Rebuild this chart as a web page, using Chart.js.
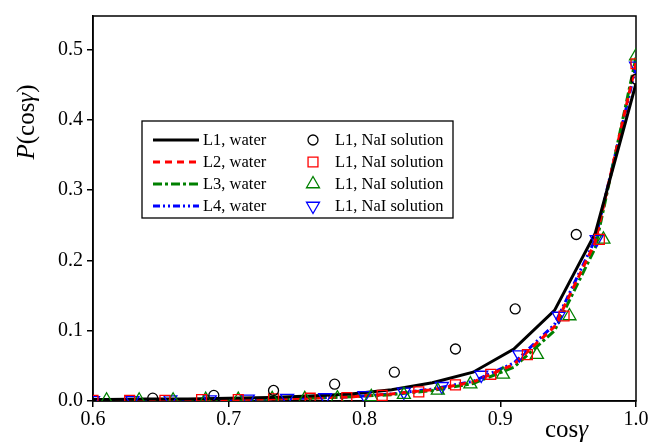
<!DOCTYPE html>
<html>
<head>
<meta charset="utf-8">
<script src="https://cdn.jsdelivr.net/npm/chart.js"></script>
<style>
  html, body { margin: 0; padding: 0; background: #fff; }
</style>
</head>
<body>
<canvas id="chart" width="651" height="443"></canvas>
<script>
// --- data ---
const lineX   = [1.0, 0.97, 0.94, 0.91, 0.88, 0.85, 0.82, 0.79, 0.76, 0.73, 0.70, 0.67, 0.64, 0.61, 0.58];
const l1Water = [0.452, 0.239, 0.129, 0.074, 0.041, 0.026, 0.016, 0.010, 0.007, 0.005, 0.004, 0.003, 0.003, 0.002, 0.002];
const l2Water = [0.481, 0.226, 0.106, 0.052, 0.027, 0.016, 0.010, 0.006, 0.004, 0.003, 0.002, 0.002, 0.001, 0.001, 0.001];
const l3Water = [0.489, 0.218, 0.100, 0.048, 0.025, 0.015, 0.009, 0.006, 0.004, 0.003, 0.002, 0.002, 0.001, 0.001, 0.001];
const l4Water = [0.476, 0.230, 0.109, 0.054, 0.028, 0.017, 0.010, 0.006, 0.004, 0.003, 0.002, 0.002, 0.001, 0.001, 0.001];

const circX   = [1.0, 0.956, 0.911, 0.867, 0.822, 0.778, 0.733, 0.689, 0.644];
const circY   = [0.458, 0.237, 0.131, 0.074, 0.041, 0.024, 0.015, 0.008, 0.004];

const sqX     = [1.0, 0.973, 0.947, 0.92, 0.893, 0.867, 0.84, 0.813, 0.787, 0.76, 0.733, 0.707, 0.68, 0.653, 0.627, 0.6];
const sqY     = [0.480, 0.230, 0.121, 0.066, 0.038, 0.023, 0.013, 0.008, 0.005, 0.004, 0.003, 0.002, 0.002, 0.001, 0.001, 0.001];

const triX    = [1.0, 0.976, 0.951, 0.927, 0.902, 0.878, 0.854, 0.829, 0.805, 0.78, 0.756, 0.732, 0.707, 0.683, 0.659, 0.634, 0.61];
const triY    = [0.491, 0.230, 0.121, 0.066, 0.038, 0.024, 0.015, 0.009, 0.006, 0.004, 0.003, 0.003, 0.002, 0.002, 0.001, 0.001, 0.001];

const invX    = [1.0, 0.971, 0.943, 0.914, 0.886, 0.857, 0.829, 0.8, 0.771, 0.743, 0.714, 0.686, 0.657, 0.629, 0.6];
const invY    = [0.477, 0.230, 0.121, 0.066, 0.037, 0.021, 0.013, 0.008, 0.005, 0.004, 0.003, 0.002, 0.002, 0.001, 0.001];

const xTicks  = [0.6, 0.7, 0.8, 0.9, 1.0];
const yTicks  = [0.0, 0.1, 0.2, 0.3, 0.4, 0.5];

const lineLabels   = ['L1, water', 'L2, water', 'L3, water', 'L4, water'];
const markerLabels = ['L1, NaI solution', 'L1, NaI solution', 'L1, NaI solution', 'L1, NaI solution'];

const pts = (xs, ys) => xs.map((x, i) => ({ x: x, y: ys[i] }));
const SERIF = '"Liberation Serif", "Times New Roman", serif';

function lineSet(label, ys, color, dash) {
  return {
    label: label, data: pts(lineX, ys), showLine: true, order: 2,
    borderColor: color, backgroundColor: color, borderWidth: 3,
    borderDash: dash, pointRadius: 0, tension: 0
  };
}
function markerSet(label, xs, ys, color, style, r, rot) {
  return {
    label: label, data: pts(xs, ys), showLine: false, order: 1,
    borderColor: color, backgroundColor: 'rgba(0,0,0,0)', borderWidth: 1.3,
    pointStyle: style, pointRadius: r, pointRotation: rot || 0
  };
}

const datasets = [
  lineSet(lineLabels[0], l1Water, '#000000', []),
  lineSet(lineLabels[1], l2Water, '#ff0000', [7, 5]),
  lineSet(lineLabels[2], l3Water, '#008000', [9, 3, 3, 3]),
  lineSet(lineLabels[3], l4Water, '#0000ff', [7, 3, 2, 3, 2, 3]),
  markerSet(markerLabels[0], circX, circY, '#000000', 'circle', 5),
  markerSet(markerLabels[1], sqX, sqY, '#ff0000', 'rect', 7),
  markerSet(markerLabels[2], triX, triY, '#008000', 'triangle', 7.5),
  markerSet(markerLabels[3], invX, invY, '#0000ff', 'triangle', 7.5, 180)
];

// frame round the plot area
const framePlugin = {
  id: 'frame',
  beforeDatasetsDraw(chart) {
    const a = chart.chartArea, ctx = chart.ctx;
    ctx.save();
    ctx.strokeStyle = '#000';
    ctx.lineWidth = 1.5;
    ctx.strokeRect(a.left, a.top, a.right - a.left, a.bottom - a.top);
    ctx.restore();
  }
};

// axis titles with italic parts
function drawMixed(ctx, parts, x, y, size) {
  let cx = x;
  parts.forEach(p => {
    ctx.font = (p[1] ? 'italic ' : '') + size + 'px ' + SERIF;
    ctx.fillText(p[0], cx, y);
    cx += ctx.measureText(p[0]).width;
  });
  return cx - x;
}
function mixedWidth(ctx, parts, size) {
  let w = 0;
  parts.forEach(p => {
    ctx.font = (p[1] ? 'italic ' : '') + size + 'px ' + SERIF;
    w += ctx.measureText(p[0]).width;
  });
  return w;
}

const titlePlugin = {
  id: 'titles',
  afterDraw(chart) {
    const ctx = chart.ctx;
    ctx.save();
    ctx.fillStyle = '#000';
    ctx.textBaseline = 'alphabetic';
    // x title
    drawMixed(ctx, [['cos', false], ['\u03b3', true]], 545, 437, 25);
    // y title, rotated
    const yParts = [['P', true], ['(cos', false], ['\u03b3', true], [')', false]];
    const w = mixedWidth(ctx, yParts, 25);
    ctx.translate(34, 122);
    ctx.rotate(-Math.PI / 2);
    drawMixed(ctx, yParts, -w / 2, 0, 25);
    ctx.restore();
  }
};

// boxed legend inside the plot
const legendPlugin = {
  id: 'boxLegend',
  afterDraw(chart) {
    const ctx = chart.ctx;
    const ds = chart.data.datasets;
    const box = { l: 142, t: 121, r: 453, b: 218 };
    const rows = [140, 162, 184, 206];
    ctx.save();
    ctx.strokeStyle = '#000';
    ctx.lineWidth = 1.3;
    ctx.strokeRect(box.l, box.t, box.r - box.l, box.b - box.t);
    ctx.font = '16.5px ' + SERIF;
    ctx.fillStyle = '#000';
    ctx.textBaseline = 'middle';
    for (let i = 0; i < 4; i++) {
      const d = ds[i];
      const y = rows[i];
      ctx.save();
      ctx.strokeStyle = d.borderColor;
      ctx.lineWidth = d.borderWidth;
      ctx.setLineDash(d.borderDash);
      ctx.beginPath();
      ctx.moveTo(153, y);
      ctx.lineTo(199, y);
      ctx.stroke();
      ctx.restore();
      ctx.fillStyle = '#000';
      ctx.fillText(d.label, 203, y + 1);

      const m = ds[i + 4];
      ctx.save();
      ctx.strokeStyle = m.borderColor;
      ctx.fillStyle = 'rgba(0,0,0,0)';
      ctx.lineWidth = m.borderWidth;
      Chart.helpers.drawPoint(ctx, {
        pointStyle: m.pointStyle, rotation: m.pointRotation,
        radius: m.pointRadius, borderWidth: m.borderWidth
      }, 313, y);
      ctx.restore();
      ctx.fillStyle = '#000';
      ctx.fillText(m.label, 335, y + 1);
    }
    ctx.restore();
  }
};

const tickFont = { family: SERIF, size: 20 };

new Chart(document.getElementById('chart').getContext('2d'), {
  type: 'scatter',
  data: { datasets: datasets },
  options: {
    responsive: false,
    animation: false,
    layout: { padding: { top: 15, right: 15, left: 0, bottom: 0 } },
    plugins: { legend: { display: false }, tooltip: { enabled: false } },
    scales: {
      x: {
        type: 'linear', min: 0.6, max: 1.0,
        afterFit: s => { s.height = 42; },
        afterBuildTicks: s => { s.ticks = xTicks.map(v => ({ value: v })); },
        grid: { display: true, drawOnChartArea: false, drawTicks: true, tickLength: 6, color: '#000', lineWidth: 1.5 },
        border: { display: true, color: '#000', width: 1.5 },
        ticks: { font: tickFont, color: '#000', padding: 1, maxRotation: 0, callback: v => Number(v).toFixed(1) }
      },
      y: {
        type: 'linear', min: 0, max: 0.548,
        afterFit: s => { s.width = 93; },
        afterBuildTicks: s => { s.ticks = yTicks.map(v => ({ value: v })); },
        grid: { display: true, drawOnChartArea: false, drawTicks: true, tickLength: 6, color: '#000', lineWidth: 1.5 },
        border: { display: true, color: '#000', width: 1.5 },
        ticks: { font: tickFont, color: '#000', padding: 4, callback: v => Number(v).toFixed(1) }
      }
    }
  },
  plugins: [framePlugin, titlePlugin, legendPlugin]
});
</script>
</body>
</html>
